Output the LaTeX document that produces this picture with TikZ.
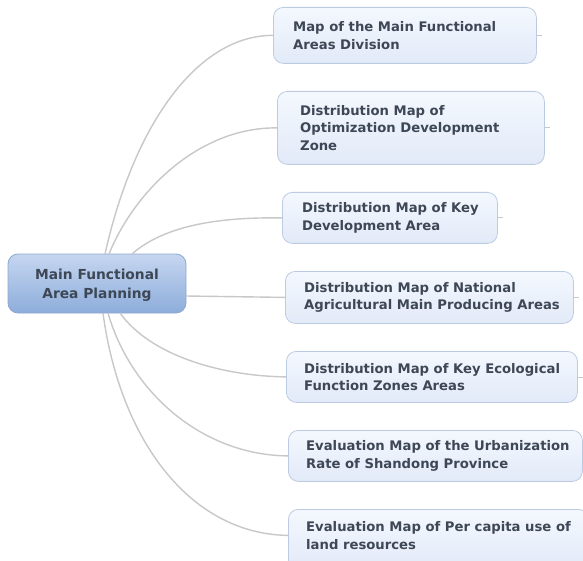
\documentclass[tikz,border=0pt]{standalone}
\usepackage{fontspec}
\setmainfont{DejaVu Sans}
\definecolor{txtc}{HTML}{3E4756}
\definecolor{bordc}{HTML}{BCCBE2}
\definecolor{btop}{HTML}{F4F8FE}
\definecolor{bbot}{HTML}{E2EAF8}
\definecolor{ctop}{HTML}{C6D6F0}
\definecolor{cbot}{HTML}{8DADDB}
\definecolor{cbord}{HTML}{8EA8CF}
\definecolor{linec}{HTML}{C8C8C8}
\tikzset{
  topicbox/.style={draw=bordc, line width=0.8pt, rounded corners=10pt, top color=btop, bottom color=bbot, anchor=north west, inner sep=0pt},
  centralbox/.style={draw=cbord, line width=0.8pt, rounded corners=10pt, top color=ctop, bottom color=cbot, inner sep=0pt},
  topictext/.style={anchor=west, align=left, inner sep=0pt, text=txtc, font=\bfseries\fontsize{13.2}{17.5}\selectfont},
  centraltext/.style={align=center, inner sep=0pt, text=txtc, font=\bfseries\fontsize{13.8}{19}\selectfont},
  conn/.style={draw=linec, line width=1.4pt},
  stub/.style={draw=linec, line width=0.8pt}
}
\begin{document}
\begin{tikzpicture}[x=1pt,y=-1pt]
\useasboundingbox (0,0) rectangle (583,561);
\clip (0,0) rectangle (583,561);
\fill[white] (0,0) rectangle (583,561);
\coordinate (s1) at (105,254);
\coordinate (s2) at (109,254);
\coordinate (s3) at (132,254);
\coordinate (s4) at (186,296);
\coordinate (s5) at (120,313);
\coordinate (s6) at (108,313);
\coordinate (s7) at (103,313);
% central
\node[centralbox, minimum width=178pt, minimum height=59pt] (c) at (97,283.5) {};
\node[centraltext] (ct) at ([yshift=-2pt]c.center) {Main Functional\\Area Planning};
% topics
\node[topicbox, minimum width=263pt, minimum height=56pt] (b1) at (273,7) {};
\node[topictext] (t1) at ([xshift=20pt]b1.west) {Map of the Main Functional\\Areas Division};
\node[topicbox, minimum width=267pt, minimum height=73pt] (b2) at (277,91) {};
\node[topictext] (t2) at ([xshift=23pt]b2.west) {Distribution Map of\\Optimization Development\\Zone};
\node[topicbox, minimum width=215pt, minimum height=51pt] (b3) at (282,192) {};
\node[topictext] (t3) at ([xshift=20pt]b3.west) {Distribution Map of Key\\Development Area};
\node[topicbox, minimum width=288pt, minimum height=52pt] (b4) at (285,271) {};
\node[topictext] (t4) at ([xshift=19pt]b4.west) {Distribution Map of National\\Agricultural Main Producing Areas};
\node[topicbox, minimum width=291pt, minimum height=51pt] (b5) at (286,351) {};
\node[topictext] (t5) at ([xshift=18pt]b5.west) {Distribution Map of Key Ecological\\Function Zones Areas};
\node[topicbox, minimum width=294pt, minimum height=51pt] (b6) at (288,430) {};
\node[topictext] (t6) at ([xshift=18pt]b6.west) {Evaluation Map of the Urbanization\\Rate of Shandong Province};
\node[topicbox, minimum width=300pt, minimum height=60pt] (b7) at (288,509) {};
\coordinate (b7m) at ([yshift=4pt]b7.west);
\node[topictext] (t7) at ([xshift=18pt]b7m) {Evaluation Map of Per capita use of\\land resources};
% connectors
\draw[conn] (s1) .. controls (135,120) and (200,35) .. (b1.west);
\draw[conn] (s2) .. controls (135,190) and (200,127) .. (b2.west);
\draw[conn] (s3) .. controls (165,225) and (220,217) .. (b3.west);
\draw[conn] (s4) -- (b4.west);
\draw[conn] (s5) .. controls (150,355) and (220,376) .. (b5.west);
\draw[conn] (s6) .. controls (130,390) and (200,455) .. (b6.west);
\draw[conn] (s7) .. controls (120,440) and (190,534) .. (b7m);
% stubs
\draw[stub] (b1.east) -- ++(5,0);
\draw[stub] (b2.east) -- ++(5,0);
\draw[stub] (b3.east) -- ++(5,0);
\draw[stub] (b4.east) -- ++(5,0);
\draw[stub] (b5.east) -- ++(5,0);
\end{tikzpicture}
\end{document}
